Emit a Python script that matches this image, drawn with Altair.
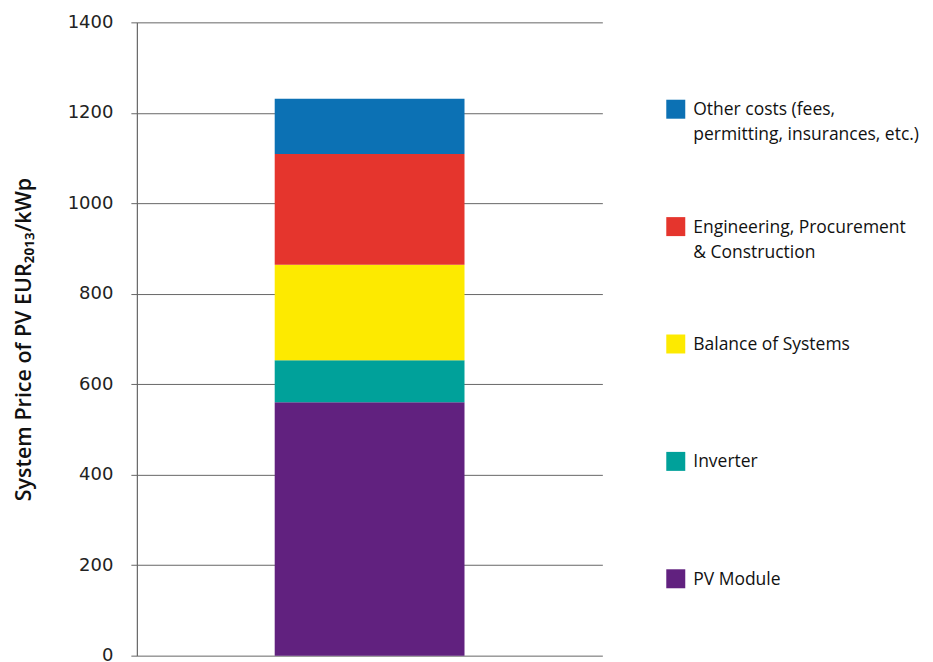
import altair as alt
import pandas as pd

categories = ["PV Module", "Inverter", "Balance of Systems",
              "Engineering, Procurement & Construction",
              "Other costs (fees, permitting, insurances, etc.)"]
legend_labels = ["PV Module", "Inverter", "Balance of Systems",
                 "Engineering, Procurement|& Construction",
                 "Other costs (fees,|permitting, insurances, etc.)"]
values = [560, 93, 211, 245, 122]
colors = ["#61217F", "#00A19A", "#FDEA00", "#E5352D", "#0C71B4"]
y_ticks = [0, 200, 400, 600, 800, 1000, 1200, 1400]

df = pd.DataFrame({
    "group": ["PV system"] * len(categories),
    "cat": categories,
    "label": legend_labels,
    "value": values,
    "idx": list(range(len(categories))),
})

color_scale = alt.Scale(domain=categories, range=colors)

bars = alt.Chart(df).mark_bar(size=190).encode(
    x=alt.X("group:N", axis=None),
    y=alt.Y("value:Q", stack="zero",
            scale=alt.Scale(domain=[0, 1400], nice=False),
            axis=alt.Axis(values=y_ticks, format="d",
                          title="System Price of PV EUR₂₀₁₃/kWp",
                          grid=True, gridColor="#666666", gridWidth=1,
                          domainColor="#666666", domainWidth=1.2,
                          tickColor="#666666", tickSize=6,
                          labelFont="DejaVu Sans", labelFontSize=18,
                          labelColor="#222222", labelPadding=18,
                          titleFont="Open Sans", titleFontSize=21.5,
                          titleFontWeight=600, titleColor="#111111",
                          titlePadding=32)),
    color=alt.Color("cat:N", scale=color_scale, legend=None),
    order=alt.Order("idx:Q"),
).properties(width=466, height=634)

leg_base = alt.Chart(df).encode(
    y=alt.Y("label:N", sort=list(reversed(legend_labels)), axis=None,
            scale=alt.Scale(type="point", padding=0.74)),
)
squares = leg_base.mark_square(size=361, opacity=1, strokeWidth=0).encode(
    x=alt.value(9.5),
    color=alt.Color("cat:N", scale=color_scale, legend=None),
)
texts = leg_base.mark_text(align="left", baseline="top", dy=-8,
                           font="Open Sans", fontSize=17.5, lineHeight=25,
                           lineBreak="|", color="#111111").encode(
    x=alt.value(27),
    text="label:N",
)
legend = alt.layer(squares, texts).properties(width=230, height=644)

chart = alt.hconcat(bars, legend, spacing=64).configure_view(stroke=None)

chart.save("out.html", embed_options={"renderer": "svg", "actions": False})
